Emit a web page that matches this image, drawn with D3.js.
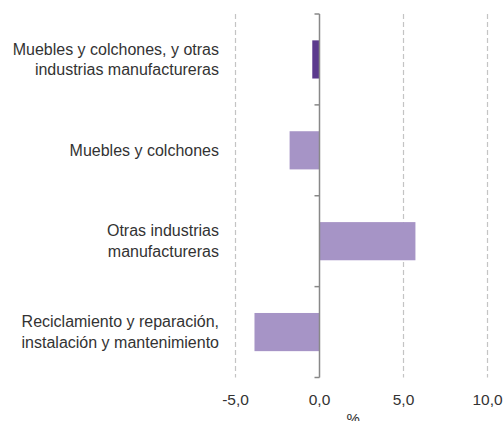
<!DOCTYPE html>
<html><head><meta charset="utf-8">
<script src="https://cdn.jsdelivr.net/npm/d3@7"></script>
<style>body{margin:0;background:#fff}svg{display:block}text{font-family:"Liberation Sans",Arial,sans-serif}</style>
</head><body><svg id="c" width="504" height="421"></svg>
<script>
const categories = [
  ["Muebles y colchones, y otras", "industrias manufactureras"],
  ["Muebles y colchones"],
  ["Otras industrias", "manufactureras"],
  ["Reciclamiento y reparación,", "instalación y mantenimiento"]
];
const values = [-0.43, -1.78, 5.71, -3.87];
const barColors = ["#5b3a8d", "#a694c6", "#a694c6", "#a694c6"];
const xTicks = [-5, 0, 5, 10];
const xTickLabels = ["-5,0", "0,0", "5,0", "10,0"];
const axisTitle = "%";

const svg = d3.select("#c");
const x = d3.scaleLinear().domain([-5, 10]).range([235.5, 487.5]);
const y = d3.scaleBand().domain(d3.range(categories.length)).range([14, 377.5]).paddingInner(0.58).paddingOuter(0.29);
const band = d3.scaleBand().domain(d3.range(categories.length)).range([14, 377.5]);

// gridlines
svg.append("g").selectAll("line").data(xTicks.filter(d => d !== 0)).join("line")
  .attr("x1", d => x(d)).attr("x2", d => x(d)).attr("y1", 14).attr("y2", 377.5)
  .attr("stroke", "#c4c4c4").attr("stroke-width", 1.2).attr("stroke-dasharray", "5,3");

// bars
svg.append("g").selectAll("rect").data(values).join("rect")
  .attr("x", d => x(Math.min(0, d))).attr("width", d => Math.abs(x(d) - x(0)))
  .attr("y", (d, i) => y(i)).attr("height", y.bandwidth())
  .attr("fill", (d, i) => barColors[i]);

// y axis line with ticks
const ax = svg.append("g");
ax.append("line").attr("x1", x(0)).attr("x2", x(0)).attr("y1", 14).attr("y2", 377.5)
  .attr("stroke", "#888").attr("stroke-width", 1.5);
const tickYs = d3.range(categories.length).map(i => band(i)).concat([377.5]);
ax.selectAll("line.t").data(tickYs).join("line").attr("class", "t")
  .attr("x1", x(0) - 5).attr("x2", x(0)).attr("y1", d => d).attr("y2", d => d)
  .attr("stroke", "#888").attr("stroke-width", 1.5);

// category labels
const lab = svg.append("g");
categories.forEach((lines, i) => {
  const cy = band(i) + band.bandwidth() / 2;
  const lh = 20.5;
  const t = lab.append("text").attr("text-anchor", "end").attr("font-size", 16)
    .attr("fill", "#333");
  lines.forEach((l, k) => {
    t.append("tspan").attr("x", 219).attr("y", cy + (k - (lines.length - 1) / 2) * lh + 5.5).text(l);
  });
});

// x tick labels
svg.append("g").selectAll("text").data(xTicks).join("text")
  .attr("x", d => x(d)).attr("y", 405).attr("text-anchor", "middle")
  .attr("font-size", 15.5).attr("fill", "#333")
  .text((d, i) => xTickLabels[i]);

svg.append("text").attr("x", x(2)).attr("y", 424).attr("text-anchor", "middle")
  .attr("font-size", 15).attr("fill", "#333").text(axisTitle);
</script></body></html>
